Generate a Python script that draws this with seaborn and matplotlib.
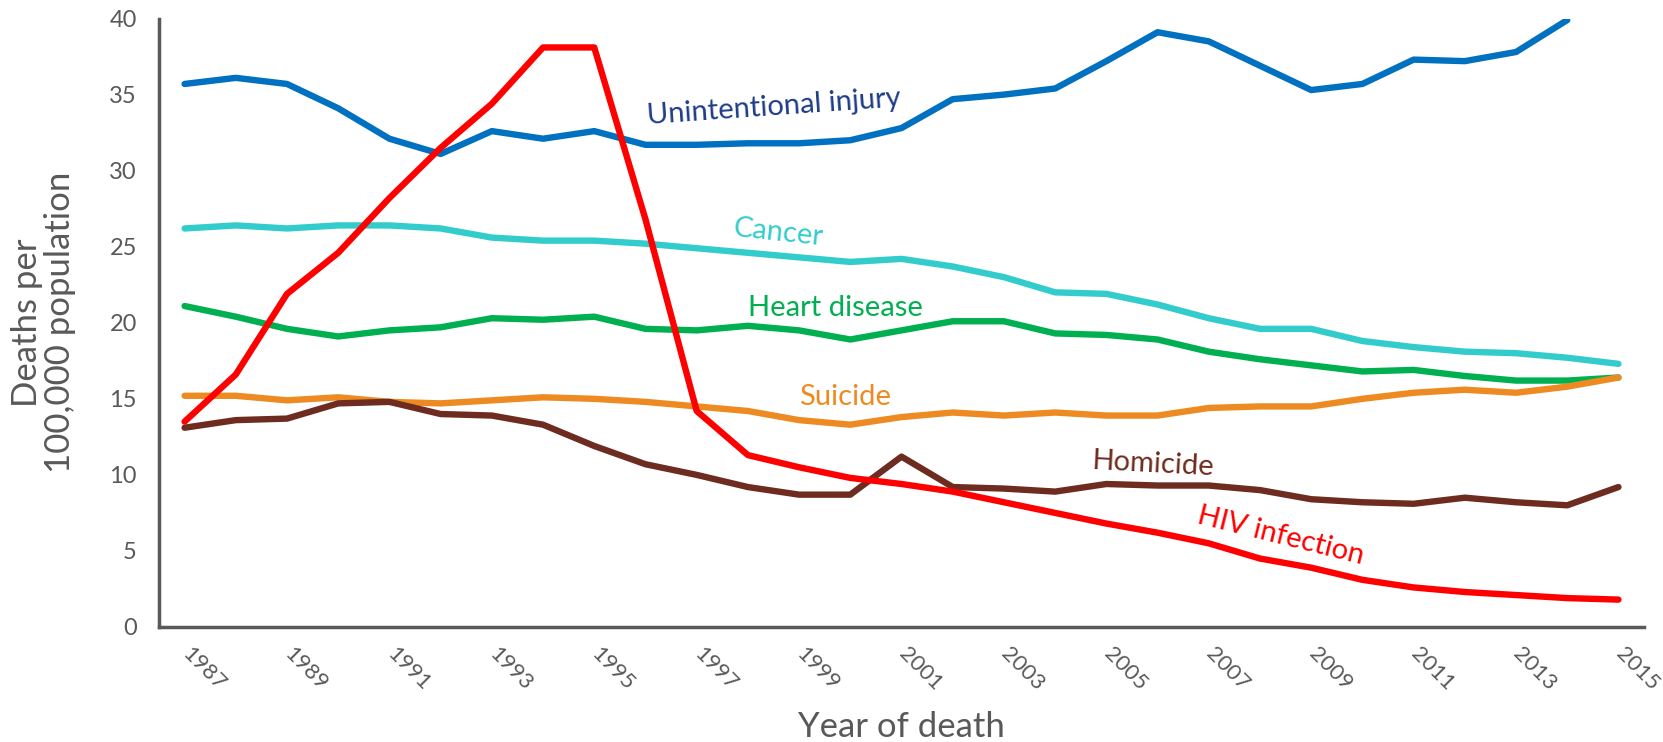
import numpy as np
import pandas as pd
import matplotlib
matplotlib.use("Agg")
import matplotlib.pyplot as plt
import seaborn as sns

# Deaths per 100,000 population by cause
years = list(range(1987, 2016))

injury = [35.7, 36.1, 35.7, 34.1, 32.1, 31.1, 32.6, 32.1, 32.6, 31.7,
          31.7, 31.8, 31.8, 32.0, 32.8, 34.7, 35.0, 35.4, 37.2, 39.1,
          38.5, 36.9, 35.3, 35.7, 37.3, 37.2, 37.8, 39.9, np.nan]
cancer = [26.2, 26.4, 26.2, 26.4, 26.4, 26.2, 25.6, 25.4, 25.4, 25.2,
          24.9, 24.6, 24.3, 24.0, 24.2, 23.7, 23.0, 22.0, 21.9, 21.2,
          20.3, 19.6, 19.6, 18.8, 18.4, 18.1, 18.0, 17.7, 17.3]
heart = [21.1, 20.4, 19.6, 19.1, 19.5, 19.7, 20.3, 20.2, 20.4, 19.6,
         19.5, 19.8, 19.5, 18.9, 19.5, 20.1, 20.1, 19.3, 19.2, 18.9,
         18.1, 17.6, 17.2, 16.8, 16.9, 16.5, 16.2, 16.2, 16.4]
suicide = [15.2, 15.2, 14.9, 15.1, 14.8, 14.7, 14.9, 15.1, 15.0, 14.8,
           14.5, 14.2, 13.6, 13.3, 13.8, 14.1, 13.9, 14.1, 13.9, 13.9,
           14.4, 14.5, 14.5, 15.0, 15.4, 15.6, 15.4, 15.8, 16.4]
homicide = [13.1, 13.6, 13.7, 14.7, 14.8, 14.0, 13.9, 13.3, 11.9, 10.7,
            10.0, 9.2, 8.7, 8.7, 11.2, 9.2, 9.1, 8.9, 9.4, 9.3,
            9.3, 9.0, 8.4, 8.2, 8.1, 8.5, 8.2, 8.0, 9.2]
hiv = [13.5, 16.6, 21.9, 24.6, 28.2, 31.5, 34.4, 38.1, 38.1, 26.8,
       14.2, 11.3, 10.5, 9.8, 9.4, 8.9, 8.2, 7.5, 6.8, 6.2,
       5.5, 4.5, 3.9, 3.1, 2.6, 2.3, 2.1, 1.9, 1.8]

causes = ["Unintentional injury", "Cancer", "Heart disease",
          "Suicide", "Homicide", "HIV infection"]
series = [injury, cancer, heart, suicide, homicide, hiv]
line_colors = ["#0070C0", "#33CCCC", "#00B050", "#ED8B22", "#6E2C20", "#FF0000"]
text_colors = ["#1F3C88", "#33CCCC", "#00B050", "#ED8B22", "#6E2C20", "#FF0000"]

# label placement (year, value, rotation)
label_pos = [(1998.5, 34.2, 4), (1998.6, 25.9, -6), (1999.7, 21.0, 0),
             (1999.9, 15.1, 0), (2005.9, 10.7, -3), (2008.4, 6.0, -14)]

df = pd.DataFrame({
    "year": np.tile(years, len(causes)),
    "cause": np.repeat(causes, len(years)),
    "rate": np.concatenate(series),
})

sns.set_style("white")
plt.rcParams["font.family"] = ["Lato", "DejaVu Sans"]
grey = "#595959"

fig = plt.figure(figsize=(16.63, 7.42), dpi=100)
ax = fig.add_axes([0.0956, 0.155, 0.893, 0.82])

sns.lineplot(data=df, x="year", y="rate", hue="cause", hue_order=causes,
             palette=dict(zip(causes, line_colors)), linewidth=4.6,
             legend=False, ax=ax)

ax.set_xlim(1986.5, 2015.5)
ax.set_ylim(0, 40)
ax.set_yticks(range(0, 41, 5))
ax.set_xticks([y + 0.15 for y in years[::2]])
ax.set_xticks(np.arange(1986.5, 2016, 1.0), minor=True)
ax.tick_params(axis="x", which="major", length=0, pad=12)
ax.tick_params(axis="x", which="minor", length=9, width=2, color=grey,
               direction="out")
ax.tick_params(axis="y", length=9, width=2, color=grey, direction="out",
               labelsize=17, labelcolor=grey, pad=7)
ax.set_xticklabels([str(y) for y in years[::2]], rotation=-45, ha="left",
                   va="top", rotation_mode="anchor", fontsize=16, color=grey)

for side in ["top", "right"]:
    ax.spines[side].set_visible(False)
for side in ["left", "bottom"]:
    ax.spines[side].set_color(grey)
    ax.spines[side].set_linewidth(2.5)

ax.set_xlabel("Year of death", fontsize=25, color=grey)
ax.xaxis.set_label_coords(0.5, -0.138)
ax.set_ylabel("Deaths per\n100,000 population", fontsize=25, color=grey,
              labelpad=24, linespacing=1.05)

for name, col, (x, y, rot) in zip(causes, text_colors, label_pos):
    ax.text(x, y, name, color=col, fontsize=21, ha="center", va="center",
            rotation=rot)

fig.savefig("out.png", dpi=100)
